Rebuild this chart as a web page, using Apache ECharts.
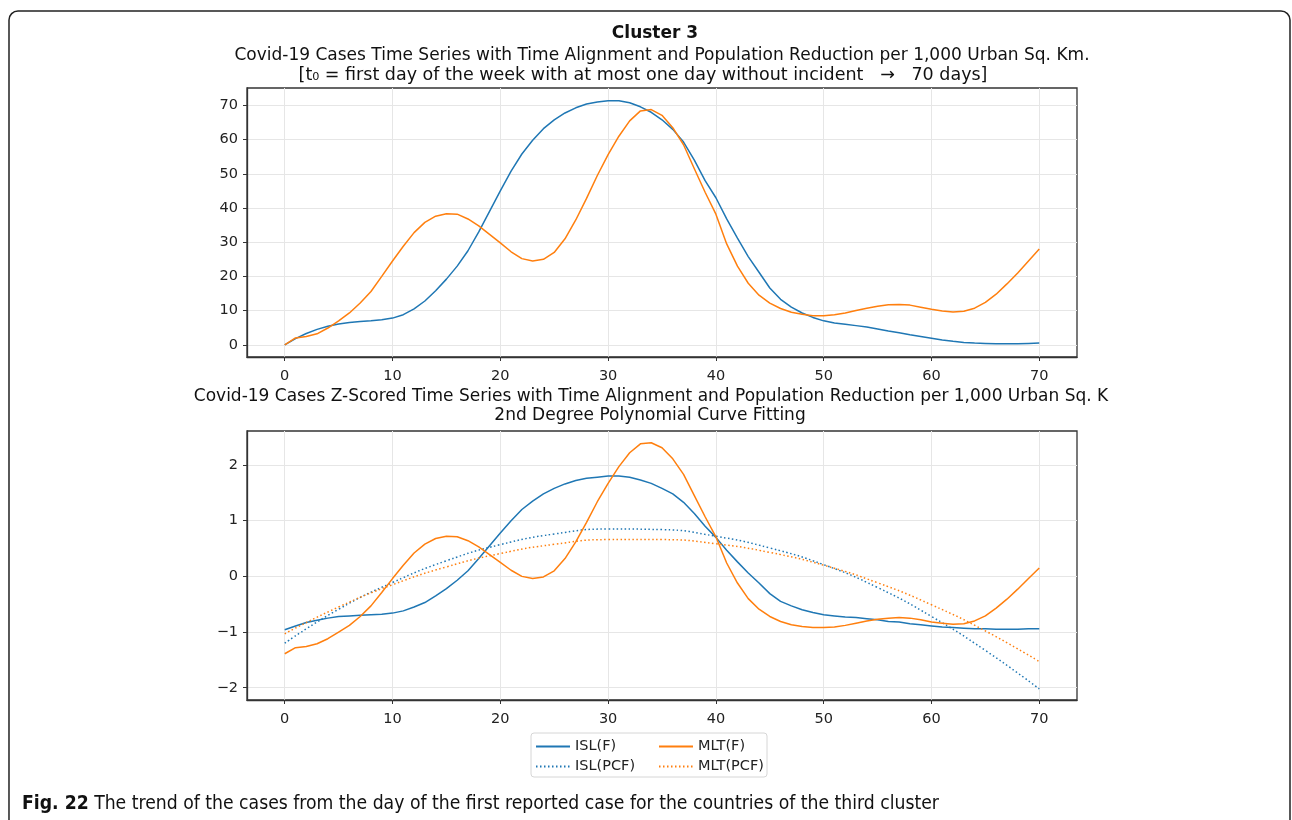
<!DOCTYPE html>
<html>
<head>
<meta charset="utf-8">
<script src="https://cdn.jsdelivr.net/npm/echarts@6/dist/echarts.min.js"></script>
<style>
    html, body { margin: 0; padding: 0; background: #fff; }
    #chart { width: 1292px; height: 820px; }
</style>
</head>
<body>
<div id="chart"></div>
<script>
    // days 0..70 for the daily series
    var days = [];
    for (let d = 0; d <= 70; d++) days.push(d);
    // days where the fitted curves were read
    var fitDays = [0, 5, 10, 15, 20, 25, 30, 35, 40, 45, 50, 55, 60, 65, 70];
    var tickValues = [0, 10, 20, 30, 40, 50, 60, 70];
    var zTickValues = [-2, -1, 0, 1, 2];

    // top panel: cases per 1,000 urban sq. km
    var islCases = [
        0.0, 1.8, 3.3, 4.5, 5.4, 6.1, 6.5, 6.8, 7.0, 7.3,
        7.8, 8.8, 10.5, 12.8, 15.8, 19.2, 23.0, 27.5, 33.0, 39.0,
        45.0, 50.8, 55.8, 59.8, 63.2, 65.8, 67.8, 69.3, 70.4, 71.0,
        71.4, 71.4, 70.8, 69.6, 68.0, 65.8, 63.0, 59.3, 54.0, 48.0,
        43.0, 36.8, 31.2, 25.8, 21.2, 16.6, 13.3, 11.0, 9.3, 8.0,
        7.0, 6.4, 6.0, 5.6, 5.2, 4.6, 4.0, 3.5, 2.9, 2.4,
        1.9, 1.4, 1.0, 0.7, 0.5, 0.4, 0.3, 0.3, 0.3, 0.4,
        0.5
    ];
    var mltCases = [
        0.0, 2.0, 2.4, 3.2, 4.9, 7.0, 9.3, 12.2, 15.6, 20.0,
        24.5, 28.8, 32.8, 35.8, 37.6, 38.3, 38.2, 36.8, 34.8, 32.3,
        29.8, 27.2, 25.2, 24.5, 25.0, 27.0, 31.0, 36.5, 42.8, 49.5,
        55.6, 61.0, 65.5, 68.4, 68.8, 67.1, 63.5, 58.5, 51.5, 44.6,
        38.2, 29.5, 23.0, 18.0, 14.5, 12.2, 10.6, 9.5, 8.9, 8.5,
        8.5, 8.8, 9.3, 10.0, 10.7, 11.3, 11.7, 11.8, 11.6, 11.0,
        10.4, 9.9, 9.6, 9.8, 10.7, 12.4, 14.8, 17.8, 21.0, 24.5,
        28.0
    ];

    // bottom panel: z-scored series
    var islZ = [
        -0.96, -0.89, -0.83, -0.79, -0.75, -0.72, -0.71, -0.70, -0.69, -0.68,
        -0.66, -0.62, -0.55, -0.47, -0.35, -0.22, -0.07, 0.10, 0.32, 0.55,
        0.78, 1.00, 1.20, 1.35, 1.48, 1.58, 1.66, 1.72, 1.76, 1.78,
        1.80, 1.80, 1.78, 1.73, 1.67, 1.58, 1.48, 1.33, 1.13, 0.90,
        0.70, 0.47, 0.26, 0.06, -0.12, -0.31, -0.45, -0.53, -0.60, -0.65,
        -0.69, -0.71, -0.73, -0.74, -0.76, -0.78, -0.81, -0.82, -0.85, -0.87,
        -0.89, -0.91, -0.92, -0.93, -0.94, -0.94, -0.95, -0.95, -0.95, -0.94,
        -0.94
    ];
    var mltZ = [
        -1.39, -1.28, -1.26, -1.21, -1.12, -1.00, -0.88, -0.72, -0.53, -0.29,
        -0.04, 0.20, 0.42, 0.58, 0.68, 0.72, 0.71, 0.64, 0.53, 0.39,
        0.25, 0.11, 0.00, -0.04, -0.01, 0.10, 0.32, 0.62, 0.97, 1.34,
        1.67, 1.97, 2.22, 2.38, 2.40, 2.31, 2.11, 1.83, 1.45, 1.07,
        0.71, 0.24, -0.12, -0.40, -0.59, -0.72, -0.81, -0.87, -0.90, -0.92,
        -0.92, -0.91, -0.88, -0.84, -0.80, -0.77, -0.75, -0.74, -0.75, -0.78,
        -0.82, -0.84, -0.86, -0.85, -0.80, -0.71, -0.57, -0.41, -0.23, -0.04,
        0.15
    ];
    // 2nd degree polynomial fits, read every 5 days
    var islFit = [-1.20, -0.59, -0.11, 0.28, 0.57, 0.76, 0.85, 0.84, 0.72, 0.51, 0.21, -0.20, -0.72, -1.33, -2.02];
    var mltFit = [-1.03, -0.55, -0.15, 0.17, 0.41, 0.575, 0.66, 0.66, 0.585, 0.43, 0.20, -0.115, -0.51, -0.98, -1.53];

    var BLUE = '#1f77b4';
    var ORANGE = '#ff7f0e';
    var FONT = 'DejaVu Sans';
    var TICK_SIZE = 14.5;

    function pairs(xs, ys) {
        return xs.map((x, k) => [x, ys[k]]);
    }

    function makeXAxis(gridIndex) {
        return {
            type: 'value', gridIndex: gridIndex,
            min: -3.5, max: 73.5, minInterval: 10, maxInterval: 10,
            axisLine: { show: true, onZero: false, lineStyle: { color: '#333', width: 1.3 } },
            axisTick: { show: true, length: 4, customValues: tickValues, lineStyle: { color: '#333', width: 1 } },
            axisLabel: { customValues: tickValues, margin: 12, color: '#222', fontFamily: FONT, fontSize: TICK_SIZE },
            splitLine: { show: true, lineStyle: { color: '#e6e6e6', width: 1 } }
        };
    }

    function makeYAxis(gridIndex, min, max, step, ticks, fmt) {
        return {
            type: 'value', gridIndex: gridIndex,
            min: min, max: max, minInterval: step, maxInterval: step,
            axisLine: { show: true, onZero: false, lineStyle: { color: '#333', width: 1.3 } },
            axisTick: { show: true, length: 4, customValues: ticks, lineStyle: { color: '#333', width: 1 } },
            axisLabel: { customValues: ticks, margin: 9, color: '#222', fontFamily: FONT, fontSize: TICK_SIZE, formatter: fmt },
            splitLine: { show: true, lineStyle: { color: '#e6e6e6', width: 1 } }
        };
    }

    function lineSeries(name, data, axis, color, dotted) {
        return {
            name: name, type: 'line',
            xAxisIndex: axis, yAxisIndex: axis,
            data: data,
            showSymbol: false, symbol: 'none',
            smooth: dotted ? true : false,
            color: color,
            lineStyle: { color: color, width: 1.5, type: dotted ? [1.5, 2.5] : 'solid' },
            emphasis: { disabled: true },
            animation: false
        };
    }

    function titleText(text, x, y, size, bold) {
        return {
            type: 'text', x: x, y: y,
            style: { text: text, fill: '#111', font: (bold ? 'bold ' : '') + size + 'px "DejaVu Sans"',
                textAlign: 'center', textVerticalAlign: 'middle' }
        };
    }

    var dom = document.getElementById('chart');
    var myChart = echarts.init(dom, null, { renderer: 'canvas' });

    var legendText = { color: '#222', fontFamily: FONT, fontSize: TICK_SIZE };
    // hide the marker that echarts puts on line legend icons
    var noMarker = { color: 'rgba(0,0,0,0)', borderColor: 'rgba(0,0,0,0)', borderWidth: 0 };

    var option = {
        backgroundColor: '#fff',
        animation: false,
        grid: [
            { left: 247, top: 88, width: 830, height: 269, show: true, borderColor: '#333', borderWidth: 1.3 },
            { left: 247, top: 431, width: 830, height: 269, show: true, borderColor: '#333', borderWidth: 1.3 }
        ],
        xAxis: [makeXAxis(0), makeXAxis(1)],
        yAxis: [
            makeYAxis(0, -3.575, 75.1, 10, tickValues),
            makeYAxis(1, -2.22, 2.61, 1, zTickValues, (v) => v < 0 ? '\u2212' + Math.abs(v) : '' + v)
        ],
        legend: [
            { data: ['ISL(F)', 'ISL(PCF)'], orient: 'vertical', left: 530, top: 734,
                itemWidth: 34, itemHeight: 10, itemGap: 5, itemStyle: noMarker,
                textStyle: legendText, selectedMode: false },
            { data: ['MLT(F)', 'MLT(PCF)'], orient: 'vertical', left: 653, top: 734,
                itemWidth: 34, itemHeight: 10, itemGap: 5, itemStyle: noMarker,
                textStyle: legendText, selectedMode: false }
        ],
        series: [
            lineSeries('ISL', pairs(days, islCases), 0, BLUE, false),
            lineSeries('MLT', pairs(days, mltCases), 0, ORANGE, false),
            lineSeries('ISL(F)', pairs(days, islZ), 1, BLUE, false),
            lineSeries('ISL(PCF)', pairs(fitDays, islFit), 1, BLUE, true),
            lineSeries('MLT(F)', pairs(days, mltZ), 1, ORANGE, false),
            lineSeries('MLT(PCF)', pairs(fitDays, mltFit), 1, ORANGE, true)
        ],
        graphic: [
            { type: 'rect', z: -10, silent: true,
                shape: { x: 9, y: 11, width: 1281, height: 840, r: 9 },
                style: { fill: 'none', stroke: '#222', lineWidth: 1.5 } },
            { type: 'rect', z: 0, silent: true,
                shape: { x: 531, y: 733, width: 236, height: 44, r: 3 },
                style: { fill: '#fff', stroke: '#d6d6d6', lineWidth: 1 } },
            titleText('Cluster 3', 655, 34, 17, true),
            titleText('Covid-19 Cases Time Series with Time Alignment and Population Reduction per 1,000 Urban Sq. Km.', 662, 56, 17, false),
            titleText('[t\u2080 = first day of the week with at most one day without incident   \u2192   70 days]', 643, 75, 17.5, false),
            titleText('Covid-19 Cases Z-Scored Time Series with Time Alignment and Population Reduction per 1,000 Urban Sq. K', 651, 397, 17, false),
            titleText('2nd Degree Polynomial Curve Fitting', 650, 416, 17, false),
            { type: 'text', x: 22, y: 804,
                style: {
                    text: '{b|Fig. 22} The trend of the cases from the day of the first reported case for the countries of the third cluster',
                    fill: '#111', font: '19.2px "DejaVu Sans Condensed", sans-serif',
                    textVerticalAlign: 'middle',
                    rich: { b: { fontWeight: 'bold', fontSize: 19.2, fontFamily: 'DejaVu Sans Condensed', fill: '#111' } }
                } }
        ]
    };

    myChart.setOption(option);
</script>
</body>
</html>
